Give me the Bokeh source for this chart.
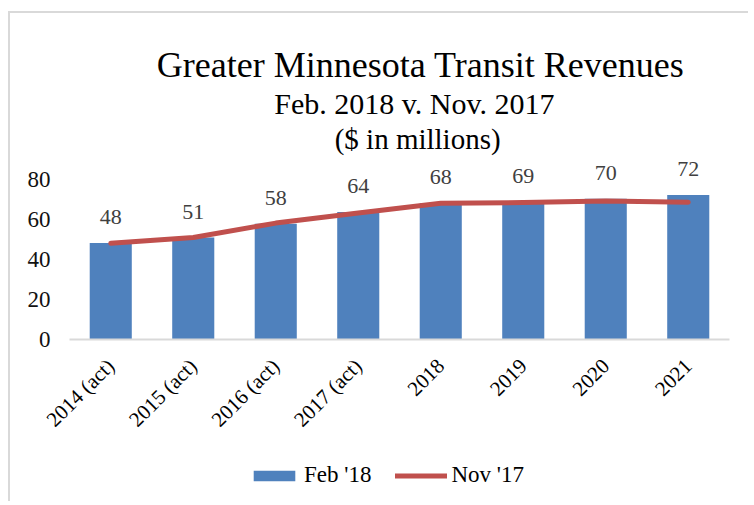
import math
from bokeh.plotting import figure
from bokeh.models import Legend, LegendItem, FixedTicker, Range1d
from bokeh.core.properties import value
from bokeh.embed import file_html
from bokeh.resources import INLINE

# ---- data ----
categories = ["2014 (act)", "2015 (act)", "2016 (act)", "2017 (act)", "2018", "2019", "2020", "2021"]
feb18 = [48.2, 51.0, 57.9, 63.8, 68.1, 68.9, 70.4, 72.3]
nov17 = [48.1, 51.0, 58.2, 63.3, 68.1, 68.5, 69.3, 68.6]
y_ticks = [0, 20, 40, 60, 80]
series_names = ["Feb '18", "Nov '17"]
title_lines = ["Greater Minnesota Transit Revenues", "Feb. 2018 v. Nov. 2017", "($ in millions)"]

FONT = "Liberation Serif"
BAR_COLOR = "#4F81BD"
LINE_COLOR = "#C0504D"

xpos = list(range(len(categories)))
n = len(categories)

p = figure(
    x_range=Range1d(-0.5 - 59 / 82.5, n - 0.5 + 21 / 82.5),
    y_range=Range1d(-82, 163),
    width=740, height=490,
    output_backend="svg", toolbar_location=None,
    min_border_left=0, min_border_right=0, min_border_top=0, min_border_bottom=0,
    styles={"border-left": "2px solid #d9d9d9", "border-top": "2px solid #d9d9d9",
            "margin-top": "11px", "margin-left": "8px"},
)
p.outline_line_color = None
p.xgrid.grid_line_color = None
p.ygrid.grid_line_color = None

bars = p.vbar(x=xpos, top=feb18, width=0.51, fill_color=BAR_COLOR, line_color=None)
line = p.line(x=xpos, y=nov17, line_width=5, line_color=LINE_COLOR,
              line_cap="round", line_join="round")

# data labels
p.text(x=xpos, y=feb18, text=[f"{v:.0f}" for v in feb18], y_offset=-26,
       text_align="center", text_baseline="middle", text_font=value(FONT),
       text_font_size="22px", text_color="#404040")

# titles
p.text(x=[3.755], y=[137.25], text=[title_lines[0]], text_align="center", text_baseline="middle",
       text_font=value(FONT), text_font_size="36px", text_color="#000000")
p.text(x=[3.68], y=[118], text=[title_lines[1]], text_align="center", text_baseline="middle",
       text_font=value(FONT), text_font_size="30px", text_color="#000000")
p.text(x=[3.72], y=[100.5], text=[title_lines[2]], text_align="center", text_baseline="middle",
       text_font=value(FONT), text_font_size="29px", text_color="#000000")

# axes
xa = p.xaxis[0]
xa.fixed_location = 0
xa.bounds = (-0.5, n - 0.5)
xa.ticker = FixedTicker(ticks=xpos)
xa.major_label_overrides = {i: c for i, c in zip(xpos, categories)}
xa.axis_line_color = "#D9D9D9"
xa.axis_line_width = 2
xa.major_tick_line_color = None
xa.minor_tick_line_color = None
xa.major_label_orientation = math.pi / 4
xa.major_label_text_font = FONT
xa.major_label_text_font_size = "21px"
xa.major_label_text_color = "#000000"
xa.major_label_standoff = 17

ya = p.yaxis[0]
ya.fixed_location = -0.5
ya.ticker = FixedTicker(ticks=y_ticks)
ya.axis_line_color = None
ya.major_tick_line_color = None
ya.minor_tick_line_color = None
ya.major_tick_out = 0
ya.major_label_standoff = 19
ya.major_label_text_font = FONT
ya.major_label_text_font_size = "23px"
ya.major_label_text_color = "#111111"

legend = Legend(
    items=[LegendItem(label=series_names[0], renderers=[bars]),
           LegendItem(label=series_names[1], renderers=[line])],
    location=(238, 15), orientation="horizontal",
    glyph_width=52, glyph_height=13, label_standoff=4, spacing=24,
    padding=0, margin=0, border_line_color=None, background_fill_alpha=0,
    label_text_font=FONT, label_text_font_size="23px", label_text_color="#000000",
)
p.add_layout(legend, "center")

open("out.html", "w").write(file_html(p, INLINE))
